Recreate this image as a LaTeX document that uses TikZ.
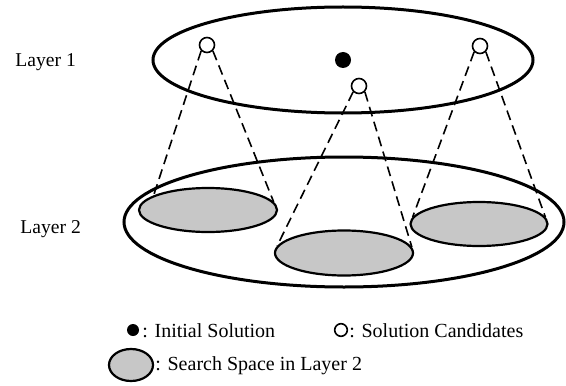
\documentclass[tikz,border=0pt]{standalone}
\usepackage{fontspec}
\setmainfont{Liberation Serif}
\usetikzlibrary{shapes.geometric}
\begin{document}
\begin{tikzpicture}[x=0.5pt,y=-0.5pt,
  layer/.style={ellipse,draw,line width=1.5pt,inner sep=0pt},
  space/.style={ellipse,draw,line width=1.1pt,fill=black!22,inner sep=0pt,
    minimum width=69pt,minimum height=22pt},
  cand/.style={circle,draw,line width=0.8pt,fill=white,inner sep=0pt,minimum size=7.5pt},
  init/.style={circle,fill=black,inner sep=0pt,minimum size=8pt},
  link/.style={line width=0.8pt,dash pattern=on 5pt off 2.8pt},
  lbl/.style={inner sep=0pt,anchor=base west,font=\fontsize{9.8pt}{11pt}\selectfont},
  leg/.style={inner sep=0pt,anchor=base west,font=\fontsize{10pt}{12pt}\selectfont}]
\useasboundingbox (0,0) rectangle (566,385);

% layer labels
\node[lbl] (l1) at (15,67) {Layer 1};
\node[lbl] (l2) at (20,233) {Layer 2};

% the two layers
\node[layer,minimum width=190pt,minimum height=53pt] (top) at (343,60) {};
\node[layer,minimum width=220pt,minimum height=65pt] (bot) at (344,222) {};

% search spaces in layer 2
\node[space] (s1) at (208,210) {};
\node[space,minimum height=22.5pt] (s2) at (344,253) {};
\node[space,minimum width=68.5pt] (s3) at (479,224) {};

% initial solution and candidates in layer 1
\node[init] (ini) at (343,60) {};
\node[cand] (c1) at (207,45) {};
\node[cand] (c2) at (359,86) {};
\node[cand] (c3) at (480,46) {};

% projection cones
\draw[link] (c1.south west) -- (s1.165);
\draw[link] (c1.south east) -- (s1.7);
\draw[link] (c2.south west) -- (s2.174);
\draw[link] (c2.south east) -- (s2.5);
\draw[link] (c3.south west) -- (s3.174);
\draw[link] (c3.south east) -- (s3.6);

% legend
\node[init,minimum size=6pt] (kini) at (133,330) {};
\node[leg] (tini) at (142,337) {: Initial Solution};
\node[cand,minimum size=6.3pt] (kcand) at (341,330) {};
\node[leg] (tcand) at (349,337) {: Solution Candidates};
\node[space,minimum width=22pt,minimum height=16pt] (kspace) at (131,365) {};
\node[leg] (tspace) at (155,370) {: Search Space in Layer 2};
\end{tikzpicture}
\end{document}
